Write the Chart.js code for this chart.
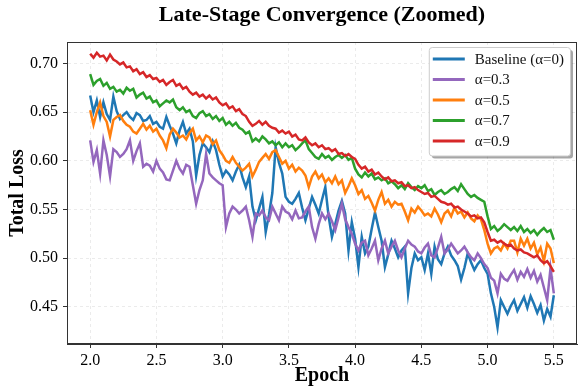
<!DOCTYPE html>
<html>
<head>
<meta charset="utf-8">
<script src="https://cdn.jsdelivr.net/npm/chart.js@4.4.1/dist/chart.umd.min.js"></script>
<style>
  html, body { margin: 0; padding: 0; background: #fff; }
  #wrap { width: 579px; height: 387px; }
</style>
</head>
<body>
<div id="wrap"><canvas id="lossChart" width="579" height="387"></canvas></div>
<script>
// ===== DATOS =====
const epochStart = 2.0;
const epochStep = 0.025;

const xTicks = [2.0, 2.5, 3.0, 3.5, 4.0, 4.5, 5.0, 5.5];
const yTicks = [0.45, 0.50, 0.55, 0.60, 0.65, 0.70];

const seriesLabels = ['Baseline (\u03b1=0)', '\u03b1=0.3', '\u03b1=0.5', '\u03b1=0.7', '\u03b1=0.9'];
const seriesColors = ['#1f77b4', '#9467bd', '#ff7f0e', '#2ca02c', '#d62728'];

const baseline = [
  0.667, 0.650, 0.662, 0.645,  0.660, 0.648, 0.642, 0.666,  0.651, 0.643, 0.647, 0.650,
  0.645, 0.642, 0.649, 0.647,  0.641, 0.642, 0.646, 0.638,  0.640, 0.635, 0.633, 0.645,
  0.636, 0.628, 0.618, 0.631,  0.640, 0.628, 0.633, 0.620,  0.585, 0.606, 0.618, 0.614,
  0.609, 0.620, 0.611, 0.596,  0.584, 0.590, 0.586, 0.580,  0.589, 0.596, 0.583, 0.573,
  0.584, 0.553, 0.539, 0.551,  0.563, 0.527, 0.545, 0.567,  0.614, 0.598, 0.587, 0.563,
  0.558, 0.556, 0.561, 0.567,  0.552, 0.539, 0.551, 0.563,  0.555, 0.546, 0.560, 0.573,
  0.543, 0.522, 0.535, 0.549,  0.559, 0.546, 0.508, 0.537,  0.520, 0.491, 0.522, 0.505,
  0.512, 0.530, 0.547, 0.532,  0.518, 0.491, 0.504, 0.518,  0.510, 0.501, 0.508, 0.512,
  0.464, 0.490, 0.505, 0.498,  0.501, 0.488, 0.505, 0.484,  0.512, 0.499, 0.494, 0.505,
  0.512, 0.503, 0.498, 0.492,  0.478, 0.490, 0.505, 0.496,  0.488, 0.494, 0.498, 0.490,
  0.484, 0.464, 0.450, 0.429,  0.457, 0.450, 0.443, 0.451,  0.457, 0.446, 0.453, 0.460,
  0.449, 0.461, 0.453, 0.444,  0.452, 0.436, 0.448, 0.440,  0.462
];

const alpha03 = [
  0.621, 0.599, 0.611, 0.587,  0.621, 0.606, 0.584, 0.612,  0.609, 0.604, 0.607, 0.612,
  0.621, 0.600, 0.610, 0.618,  0.594, 0.597, 0.595, 0.589,  0.600, 0.592, 0.588, 0.581,
  0.580, 0.590, 0.600, 0.592,  0.587, 0.596, 0.594, 0.575,  0.556, 0.570, 0.580, 0.607,
  0.587, 0.583, 0.580, 0.577,  0.575, 0.532, 0.546, 0.553,  0.550, 0.546, 0.549, 0.553,
  0.539, 0.522, 0.546, 0.544,  0.549, 0.542, 0.539, 0.553,  0.546, 0.539, 0.553, 0.548,
  0.546, 0.540, 0.549, 0.541,  0.542, 0.548, 0.553, 0.532,  0.520, 0.535, 0.546, 0.540,
  0.546, 0.538, 0.529, 0.542,  0.556, 0.540, 0.532, 0.525,  0.515, 0.508, 0.516, 0.518,
  0.503, 0.510, 0.518, 0.498,  0.510, 0.518, 0.505, 0.512,  0.518, 0.508, 0.501, 0.510,
  0.518, 0.514, 0.512, 0.507,  0.505, 0.511, 0.515, 0.503,  0.501, 0.511, 0.522, 0.505,
  0.509, 0.515, 0.510, 0.505,  0.508, 0.512, 0.506, 0.501,  0.498, 0.505, 0.500, 0.494,
  0.490, 0.480, 0.477, 0.464,  0.484, 0.479, 0.477, 0.483,  0.488, 0.478, 0.486, 0.481,
  0.489, 0.480, 0.487, 0.476,  0.483, 0.470, 0.457, 0.490,  0.464
];

const alpha05 = [
  0.652, 0.637, 0.650, 0.660,  0.646, 0.640, 0.625, 0.642,  0.645, 0.647, 0.641, 0.637,
  0.635, 0.630, 0.628, 0.633,  0.638, 0.632, 0.636, 0.630,  0.633, 0.626, 0.621, 0.613,
  0.627, 0.633, 0.629, 0.624,  0.626, 0.622, 0.629, 0.633,  0.621, 0.625, 0.619, 0.626,
  0.624, 0.617, 0.621, 0.611,  0.606, 0.600, 0.598, 0.604,  0.598, 0.594, 0.590, 0.593,
  0.597, 0.584, 0.591, 0.599,  0.603, 0.607, 0.602, 0.609,  0.611, 0.604, 0.597, 0.600,
  0.592, 0.596, 0.589, 0.593,  0.590, 0.585, 0.573, 0.584,  0.589, 0.582, 0.586, 0.578,
  0.582, 0.577, 0.584, 0.576,  0.580, 0.567, 0.574, 0.582,  0.575, 0.566, 0.570, 0.561,
  0.564, 0.557, 0.549, 0.560,  0.568, 0.556, 0.560, 0.553,  0.558, 0.555, 0.556, 0.548,
  0.539, 0.551, 0.547, 0.553,  0.549, 0.544, 0.546, 0.543,  0.551, 0.545, 0.537, 0.546,
  0.549, 0.543, 0.552, 0.546,  0.548, 0.542, 0.547, 0.541,  0.538, 0.544, 0.540, 0.529,
  0.515, 0.505, 0.510, 0.512,  0.508, 0.515, 0.510, 0.518,  0.518, 0.506, 0.520, 0.513,
  0.520, 0.510, 0.516, 0.504,  0.511, 0.497, 0.515, 0.510,  0.495
];

const alpha07 = [
  0.689, 0.678, 0.682, 0.684,  0.677, 0.680, 0.674, 0.676,  0.671, 0.673, 0.669, 0.675,
  0.672, 0.674, 0.665, 0.668,  0.670, 0.664, 0.666, 0.660,  0.662, 0.656, 0.659, 0.662,
  0.660, 0.663, 0.655, 0.652,  0.655, 0.650, 0.652, 0.646,  0.644, 0.649, 0.651, 0.646,
  0.648, 0.643, 0.646, 0.641,  0.644, 0.637, 0.640, 0.636,  0.639, 0.634, 0.632, 0.628,
  0.630, 0.620, 0.623, 0.620,  0.625, 0.622, 0.618, 0.620,  0.616, 0.619, 0.614, 0.618,
  0.614, 0.616, 0.611, 0.614,  0.618, 0.621, 0.612, 0.608,  0.604, 0.602, 0.607, 0.603,
  0.605, 0.601, 0.604, 0.606,  0.603, 0.606, 0.601, 0.603,  0.592, 0.586, 0.583, 0.588,
  0.584, 0.587, 0.581, 0.583,  0.580, 0.582, 0.577, 0.579,  0.576, 0.572, 0.575, 0.571,
  0.577, 0.573, 0.570, 0.574,  0.572, 0.575, 0.569, 0.571,  0.565, 0.568, 0.570, 0.566,
  0.568, 0.571, 0.573, 0.569,  0.576, 0.571, 0.566, 0.563,  0.565, 0.562, 0.560, 0.558,
  0.543, 0.530, 0.533, 0.528,  0.531, 0.535, 0.532, 0.529,  0.532, 0.528, 0.533, 0.527,
  0.530, 0.526, 0.529, 0.524,  0.528, 0.531, 0.527, 0.529,  0.519
];

const alpha09 = [
  0.710, 0.706, 0.711, 0.707,  0.708, 0.703, 0.709, 0.704,  0.702, 0.699, 0.701, 0.696,
  0.697, 0.692, 0.694, 0.689,  0.691, 0.686, 0.688, 0.684,  0.685, 0.681, 0.683, 0.678,
  0.681, 0.683, 0.677, 0.679,  0.674, 0.676, 0.671, 0.668,  0.670, 0.666, 0.668, 0.664,
  0.667, 0.663, 0.665, 0.660,  0.657, 0.659, 0.654, 0.656,  0.651, 0.653, 0.648, 0.646,
  0.640, 0.636, 0.638, 0.641,  0.637, 0.640, 0.636, 0.634,  0.633, 0.629, 0.631, 0.628,
  0.630, 0.625, 0.627, 0.622,  0.621, 0.624, 0.619, 0.616,  0.618, 0.614, 0.616, 0.612,
  0.613, 0.610, 0.612, 0.607,  0.608, 0.605, 0.607, 0.604,  0.602, 0.596, 0.592, 0.594,
  0.589, 0.591, 0.586, 0.588,  0.584, 0.581, 0.583, 0.579,  0.580, 0.577, 0.578, 0.574,
  0.575, 0.572, 0.573, 0.570,  0.568, 0.566, 0.567, 0.563,  0.564, 0.561, 0.558, 0.557,
  0.555, 0.556, 0.552, 0.553,  0.550, 0.548, 0.546, 0.543,  0.544, 0.541, 0.542, 0.537,
  0.527, 0.518, 0.519, 0.516,  0.518, 0.515, 0.513, 0.514,  0.510, 0.508, 0.509, 0.506,
  0.505, 0.503, 0.501, 0.503,  0.498, 0.495, 0.497, 0.492,  0.486
];

const seriesValues = [baseline, alpha03, alpha05, alpha07, alpha09];

// eje x: épocas a paso fijo
const epochs = baseline.map((_, i) => +(epochStart + i * epochStep).toFixed(3));

const serif = "'Liberation Serif', 'Times New Roman', serif";

// ===== PLUGIN: marco completo + leyenda con sombra =====
const frameAndLegend = {
    id: 'frameAndLegend',
    afterDatasetsDraw(chart) {
        const ctx = chart.ctx;
        const a = chart.chartArea;
        ctx.save();
        ctx.strokeStyle = '#333';
        ctx.lineWidth = 1;
        ctx.strokeRect(Math.round(a.left) + 0.5, Math.round(a.top) + 0.5,
            Math.round(a.right - a.left) - 1, Math.round(a.bottom - a.top) - 1);
        ctx.restore();
    },
    afterDraw(chart) {
        const ctx = chart.ctx;
        const a = chart.chartArea;
        ctx.save();
        ctx.font = '15px ' + serif;
        let maxW = 0;
        seriesLabels.forEach(l => { maxW = Math.max(maxW, ctx.measureText(l).width); });
        const rowH = 20.5;
        const w = 4 + 32 + 10 + maxW + 6;
        const h = rowH * seriesLabels.length + 6;
        const x = a.right - 7 - w;
        const y = a.top + 5;

        // sombra
        ctx.fillStyle = 'rgba(0, 0, 0, 0.35)';
        ctx.beginPath();
        ctx.roundRect(x + 3, y + 3, w, h, 3);
        ctx.fill();
        // caja
        ctx.fillStyle = '#fff';
        ctx.strokeStyle = '#cccccc';
        ctx.lineWidth = 1;
        ctx.beginPath();
        ctx.roundRect(x + 0.5, y + 0.5, w, h, 3);
        ctx.fill();
        ctx.stroke();

        ctx.textBaseline = 'middle';
        ctx.textAlign = 'left';
        chart.data.datasets.forEach((ds, i) => {
            const cy = y + 12 + i * rowH;
            ctx.strokeStyle = ds.borderColor;
            ctx.lineWidth = 3;
            ctx.beginPath();
            ctx.moveTo(x + 4, cy);
            ctx.lineTo(x + 36, cy);
            ctx.stroke();
            ctx.fillStyle = '#111';
            ctx.fillText(ds.label, x + 46, cy + 1);
        });
        ctx.restore();
    }
};

// ===== GRÁFICO =====
const datasets = seriesLabels.map((label, i) => ({
    label: label,
    data: epochs.map((e, j) => ({ x: e, y: seriesValues[i][j] })),
    borderColor: seriesColors[i],
    backgroundColor: seriesColors[i],
    borderWidth: 2.5,
    pointRadius: 0,
    tension: 0,
    fill: false,
    order: seriesLabels.length - i
}));

new Chart(document.getElementById('lossChart'), {
    type: 'line',
    data: { datasets: datasets },
    plugins: [frameAndLegend],
    options: {
        responsive: false,
        animation: false,
        devicePixelRatio: 1,
        layout: { padding: { left: 0, right: 2, top: 0, bottom: 0 } },
        plugins: {
            legend: { display: false },
            tooltip: { enabled: false },
            title: {
                display: true,
                text: 'Late-Stage Convergence (Zoomed)',
                color: '#000',
                fullSize: false,
                font: { family: serif, size: 22, weight: 'bold', lineHeight: 1.2 },
                padding: { top: 2, bottom: 13.6 }
            }
        },
        scales: {
            x: {
                type: 'linear',
                min: 1.825,
                max: 5.675,
                afterFit: (s) => { s.height = 43; },
                afterBuildTicks: (s) => { s.ticks = xTicks.map(v => ({ value: v })); },
                ticks: {
                    color: '#000',
                    padding: 3,
                    maxRotation: 0,
                    font: { family: serif, size: 16 },
                    callback: (v) => Number(v).toFixed(1)
                },
                grid: {
                    color: 'rgba(0, 0, 0, 0.08)',
                    tickColor: '#333',
                    tickLength: 4,
                    tickWidth: 1,
                    tickBorderDash: []
                },
                border: { display: true, color: '#333', width: 1, dash: [3, 3] },
                title: {
                    display: true,
                    text: 'Epoch',
                    color: '#000',
                    font: { family: serif, size: 20, weight: 'bold', lineHeight: 1 },
                    padding: { top: 0, bottom: 1 }
                }
            },
            y: {
                min: 0.412,
                max: 0.722,
                afterFit: (s) => { s.width = 67; },
                afterBuildTicks: (s) => { s.ticks = yTicks.map(v => ({ value: v })); },
                ticks: {
                    color: '#000',
                    padding: 5,
                    font: { family: serif, size: 16 },
                    callback: (v) => Number(v).toFixed(2)
                },
                grid: {
                    color: 'rgba(0, 0, 0, 0.08)',
                    tickColor: '#333',
                    tickLength: 4,
                    tickWidth: 1,
                    tickBorderDash: []
                },
                border: { display: true, color: '#333', width: 1, dash: [3, 3] },
                title: {
                    display: true,
                    text: 'Total Loss',
                    color: '#000',
                    font: { family: serif, size: 20, weight: 'bold', lineHeight: 1.2 },
                    padding: { top: 6, bottom: 0 }
                }
            }
        }
    }
});
</script>
</body>
</html>
